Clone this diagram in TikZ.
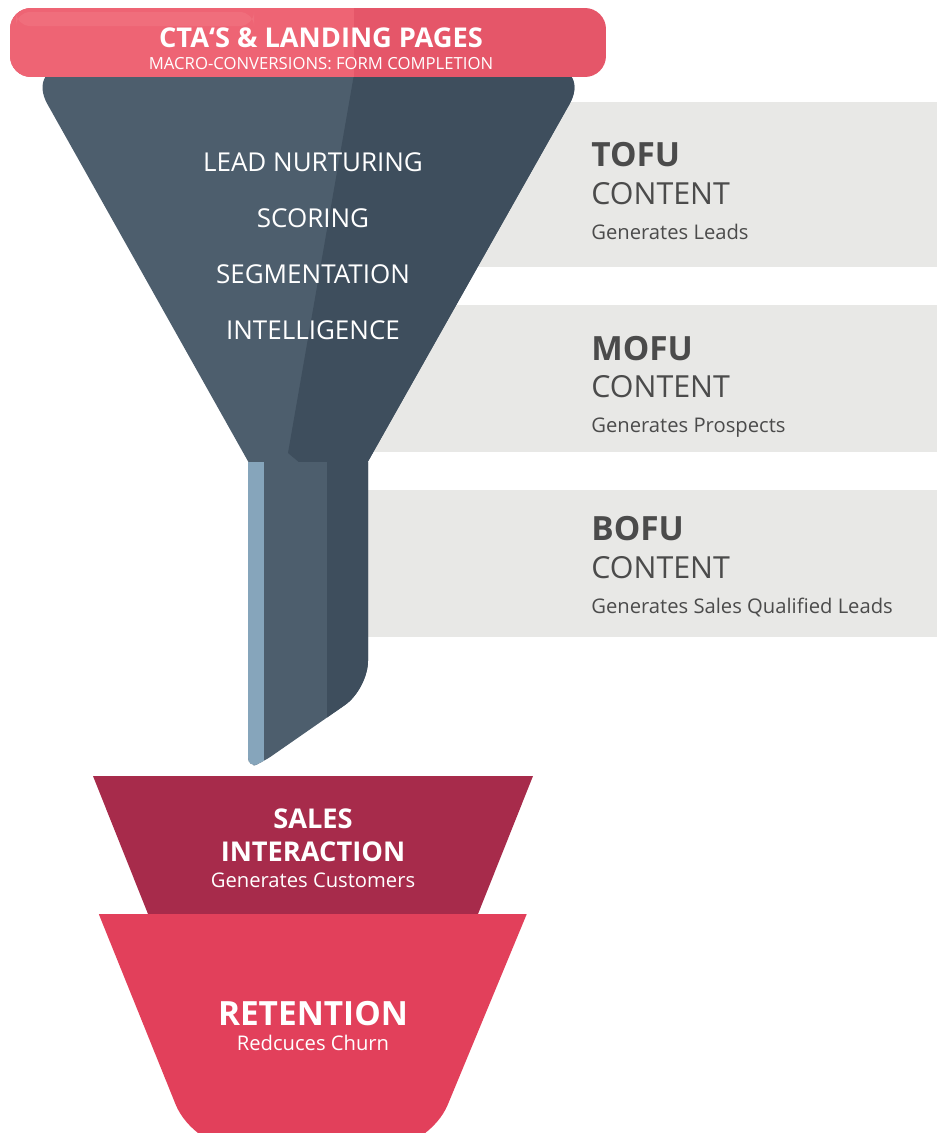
\documentclass[tikz,border=0pt]{standalone}
\usepackage{fontspec}
\setmainfont{Open Sans}

\definecolor{ctared}{HTML}{E55669}
\definecolor{ctalight}{HTML}{EE6474}
\definecolor{ctashine}{HTML}{F06E7C}
\definecolor{slatelight}{HTML}{4D5E6D}
\definecolor{slatedark}{HTML}{3E4E5D}
\definecolor{spoutblue}{HTML}{86A5BB}
\definecolor{panelgrey}{HTML}{E8E8E6}
\definecolor{paneltext}{HTML}{4B4B4B}
\definecolor{salesred}{HTML}{A72B4B}
\definecolor{retentionred}{HTML}{E2405B}

\begin{document}
\begin{tikzpicture}[x=0.02cm, y=-0.02cm]

   \tikzstyle{ctatitle}=[text=white, font=\bfseries\fontsize{15.5}{18}\selectfont, inner sep=0pt, anchor=base]
   \tikzstyle{ctasub}=[text=white, font=\fontsize{9.5}{11}\selectfont, inner sep=0pt, anchor=base]
   \tikzstyle{conetext}=[text=white, font=\fontsize{14.8}{17}\selectfont, inner sep=0pt, anchor=base]
   \tikzstyle{stage}=[text=paneltext, font=\bfseries\fontsize{19}{22}\selectfont, inner sep=0pt, anchor=base west]
   \tikzstyle{content}=[text=paneltext, font=\fontsize{17.3}{20}\selectfont, inner sep=0pt, anchor=base west]
   \tikzstyle{result}=[text=paneltext, font=\fontsize{11.5}{13}\selectfont, inner sep=0pt, anchor=base west]
   \tikzstyle{bottomtitle}=[text=white, font=\bfseries\fontsize{15.5}{18}\selectfont, inner sep=0pt, anchor=base]
   \tikzstyle{bottomsub}=[text=white, font=\fontsize{11.5}{13}\selectfont, inner sep=0pt, anchor=base]

   \useasboundingbox (0,0) rectangle (937,1133);

   % content panels
   \fill[panelgrey] (300,102) rectangle (937,267);
   \fill[panelgrey] (300,305) rectangle (937,452);
   \fill[panelgrey] (300,490) rectangle (937,637);

   \node[stage]   (tofu)  at (591,166) {TOFU};
   \node[content] (tofuc) at (591,204) {CONTENT};
   \node[result]  (tofur) at (591,239) {Generates Leads};

   \node[stage]   (mofu)  at (591,360) {MOFU};
   \node[content] (mofuc) at (591,397) {CONTENT};
   \node[result]  (mofur) at (591,432) {Generates Prospects};

   \node[stage]   (bofu)  at (591,540) {BOFU};
   \node[content] (bofuc) at (591,578) {CONTENT};
   \node[result]  (bofur) at (591,613) {Generates Sales Qualified Leads};

   % funnel cone
   \begin{scope}
      \clip[rounded corners=25] (26,66) -- (591,66) -- (335,520) -- (281,520) -- cycle;
      \fill[slatelight] (0,40) rectangle (640,540);
      \fill[slatedark] (360,40) -- (288,453) -- (300,463) -- (300,540) -- (640,540) -- (640,40) -- cycle;
   \end{scope}

   % spout
   \begin{scope}
      \clip (248,462) -- (368,462) [rounded corners=16] -- (368,689) [rounded corners=6] -- (263,762) -- (248,768) [sharp corners] -- (248,462) -- cycle;
      \fill[slatelight] (240,455) rectangle (380,780);
      \fill[slatedark] (327,455) rectangle (380,780);
      \fill[spoutblue] (240,455) rectangle (264,780);
   \end{scope}

   \node[conetext] (nurture) at (313,171) {LEAD NURTURING};
   \node[conetext] (scoring) at (313,227) {SCORING};
   \node[conetext] (segment) at (313,283) {SEGMENTATION};
   \node[conetext] (intel)   at (313,339) {INTELLIGENCE};

   % banner
   \begin{scope}
      \clip[rounded corners=12] (10,8) rectangle (606,77);
      \fill[ctared] (10,8) rectangle (606,77);
      \fill[ctalight] (10,8) rectangle (354,77);
      \fill[ctashine, rounded corners=8] (16,12) rectangle (254,26);
   \end{scope}
   \node[ctatitle] (cta) at (321,47) {CTA‘S \& LANDING PAGES};
   \node[ctasub] (macro) at (321,69) {MACRO-CONVERSIONS: FORM COMPLETION};

   % sales and retention
   \fill[salesred] (93,776) -- (533,776) -- (478,914) -- (148,914) -- cycle;
   \begin{scope}
      \clip (0,914) rectangle (937,1133);
      \fill[retentionred, rounded corners=28] (81,870) -- (545,870) -- (429,1150) -- (194,1150) -- cycle;
   \end{scope}

   \node[bottomtitle] (sales)  at (313,828) {SALES};
   \node[bottomtitle] (inter)  at (313,861) {INTERACTION};
   \node[bottomsub]   (cust)   at (313,887) {Generates Customers};
   \node[bottomtitle, font=\bfseries\fontsize{19}{22}\selectfont] (retain) at (313,1025) {RETENTION};
   \node[bottomsub]   (churn)  at (313,1050) {Redcuces Churn};

\end{tikzpicture}
\end{document}
